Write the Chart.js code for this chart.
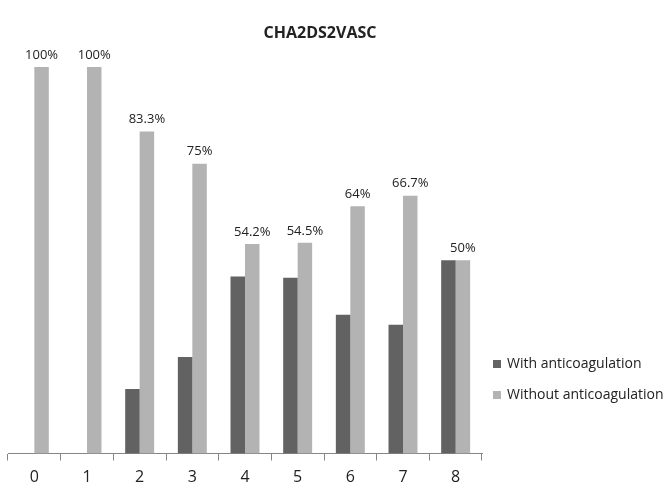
<!DOCTYPE html>
<html>
<head>
<meta charset="utf-8">
<script src="https://cdn.jsdelivr.net/npm/chart.js@4"></script>
<style>
  html, body { margin: 0; padding: 0; background: #fff; }
  #wrap { width: 670px; height: 487px; }
</style>
</head>
<body>
<div id="wrap"><canvas id="c" width="670" height="487"></canvas></div>
<script>
const categories = ["0", "1", "2", "3", "4", "5", "6", "7", "8"];
const withAnticoagulation = [0, 0, 16.7, 25, 45.8, 45.5, 35.9, 33.3, 50];
const withoutAnticoagulation = [100, 100, 83.3, 75, 54.2, 54.5, 64, 66.7, 50];
const withoutLabels = ["100%", "100%", "83.3%", "75%", "54.2%", "54.5%", "64%", "66.7%", "50%"];
const seriesNames = ["With anticoagulation", "Without anticoagulation"];
const titleText = "CHA2DS2VASC";

const FONT = "'Open Sans', 'Liberation Sans', sans-serif";

const labelPlugin = {
  id: 'valueLabels',
  afterDatasetsDraw(chart) {
    const ctx = chart.ctx;
    const meta = chart.getDatasetMeta(1);
    ctx.save();
    ctx.font = "13px " + FONT;
    ctx.fillStyle = "#222";
    ctx.textAlign = "center";
    ctx.textBaseline = "middle";
    meta.data.forEach((bar, i) => {
      ctx.fillText(withoutLabels[i], bar.x, bar.y - 12);
    });
    ctx.restore();
  }
};

const decorPlugin = {
  id: 'decor',
  afterDraw(chart) {
    const ctx = chart.ctx;
    ctx.save();
    // title
    ctx.font = "bold 16px " + FONT;
    ctx.fillStyle = "#222";
    ctx.textAlign = "center";
    ctx.textBaseline = "middle";
    ctx.fillText(titleText, 320, 33);
    // legend
    ctx.font = "14px " + FONT;
    ctx.textAlign = "left";
    const ys = [364, 395];
    chart.data.datasets.forEach((ds, i) => {
      ctx.fillStyle = ds.backgroundColor;
      ctx.fillRect(493, ys[i] - 4, 8, 8);
      ctx.fillStyle = "#222";
      ctx.fillText(ds.label, 507, ys[i]);
    });
    ctx.restore();
  }
};

new Chart(document.getElementById('c'), {
  type: 'bar',
  data: {
    labels: categories,
    datasets: [
      { label: seriesNames[0], data: withAnticoagulation, backgroundColor: "#626262", borderWidth: 0 },
      { label: seriesNames[1], data: withoutAnticoagulation, backgroundColor: "#b3b3b3", borderWidth: 0 }
    ]
  },
  options: {
    responsive: false,
    animation: false,
    devicePixelRatio: 1,
    layout: { padding: { left: 8, right: 188, top: 67, bottom: 0 } },
    datasets: { bar: { categoryPercentage: 0.55, barPercentage: 1.0 } },
    plugins: {
      legend: { display: false },
      tooltip: { enabled: false },
      title: { display: false }
    },
    scales: {
      x: {
        offset: true,
        afterFit(scale) { scale.height = 33.5; },
        grid: { display: true, drawOnChartArea: false, drawTicks: true, tickLength: 7, color: "#868686", offset: true },
        border: { display: true, color: "#868686", width: 1 },
        ticks: { color: "#222", font: { family: FONT, size: 16 }, padding: 7 }
      },
      y: {
        display: false,
        min: 0,
        max: 100
      }
    }
  },
  plugins: [labelPlugin, decorPlugin]
});
</script>
</body>
</html>
